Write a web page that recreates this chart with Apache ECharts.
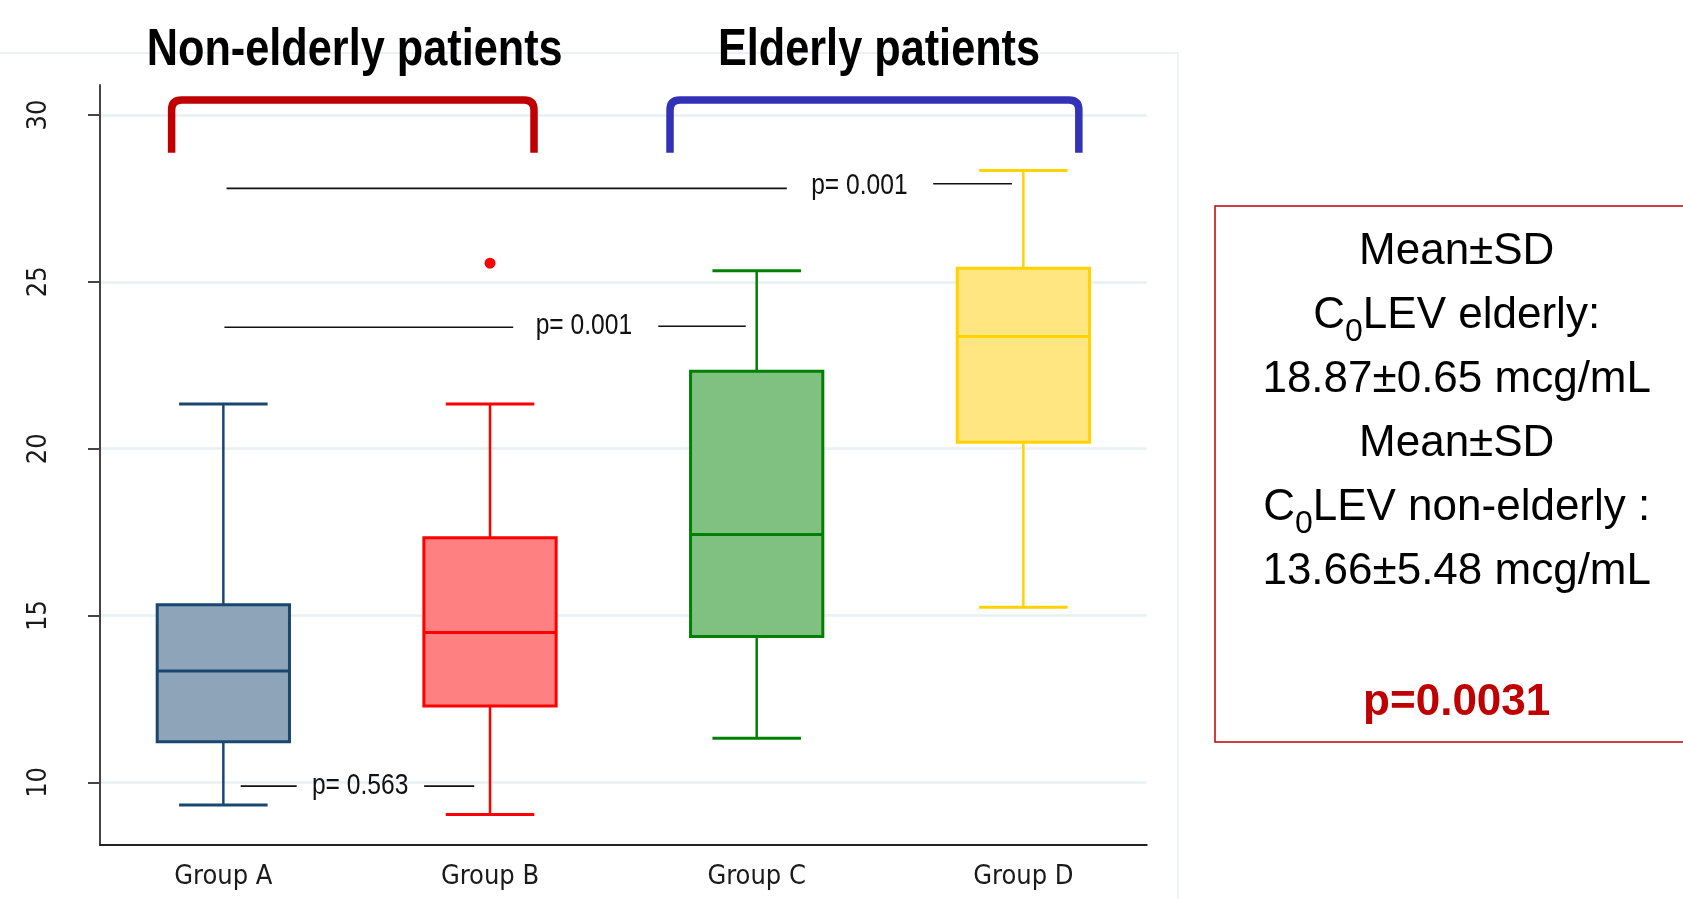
<!DOCTYPE html>
<html><head><meta charset="utf-8">
<script src="https://cdn.jsdelivr.net/npm/echarts@6/dist/echarts.min.js"></script>
<style>html,body{margin:0;padding:0;background:#fff;} #chart{width:1683px;height:899px;}</style>
</head><body><div id="chart"></div>
<script>
// ---------- data ----------
const categories = ['Group A', 'Group B', 'Group C', 'Group D'];
const whiskerLow  = [9.32, 9.04, 11.32, 15.25];
const q1          = [11.22, 12.29, 14.37, 20.19];
const median      = [13.34, 14.49, 17.43, 23.36];
const q3          = [15.32, 17.33, 22.32, 25.41];
const whiskerHigh = [21.34, 21.34, 25.33, 28.34];
const outliers    = [[2, 25.56]];
const yTicks      = [10, 15, 20, 25, 30];

const pLabels   = ['p= 0.001', 'p= 0.001', 'p= 0.563'];
const pLabelPos = [[3.385, 27.89], [2.352, 23.67], [1.513, 9.90]];
const pLeftSeg  = [[1.012, 3.113, 27.80], [1.004, 2.087, 23.64], [1.065, 1.275, 9.89]];
const pRightSeg = [[3.662, 3.957, 27.94], [2.631, 2.959, 23.67], [1.753, 1.941, 9.89]];

const groupTitles  = ['Non-elderly patients', 'Elderly patients'];
const bracketSpan  = [[0.806, 2.165], [2.675, 4.208]];
const bracketTop   = [30.45, 30.45];
const bracketFoot  = [28.87, 28.87];

const statElderly    = '18.87±0.65 mcg/mL';
const statNonElderly = '13.66±5.48 mcg/mL';
const statP          = 'p=0.0031';

// ---------- styles ----------
const SANS = '"Liberation Sans", Arial, sans-serif';
const COND = '"DejaVu Sans Condensed", "Liberation Sans", sans-serif';
const fillColors   = ['#8ea4b9', '#ff8080', '#80c080', '#ffe680'];
const strokeColors = ['#1a476f', '#ff0000', '#008000', '#ffd200'];
const bracketColors = ['#c00000', '#3232b8'];

const boxData = categories.map((c, i) => [i + 1, whiskerLow[i], q1[i], median[i], q3[i], whiskerHigh[i]]);
const pData = pLabels.map((l, i) => [pLeftSeg[i][0], pLeftSeg[i][1], pLeftSeg[i][2],
  pRightSeg[i][0], pRightSeg[i][1], pRightSeg[i][2], pLabelPos[i][0], pLabelPos[i][1]]);
const bracketData = bracketSpan.map((s, i) => [s[0], s[1], bracketTop[i], bracketFoot[i]]);

function renderBox(params, api) {
  const i = params.dataIndex;
  const x = api.value(0);
  const pLo = api.coord([x, api.value(1)]);
  const p1 = api.coord([x, api.value(2)]);
  const pm = api.coord([x, api.value(3)]);
  const p3 = api.coord([x, api.value(4)]);
  const pHi = api.coord([x, api.value(5)]);
  const halfBox = api.size([0.248, 0])[0];
  const halfCap = api.size([0.166, 0])[0];
  const cx = pLo[0];
  const stroke = strokeColors[i], fill = fillColors[i];
  return {
    type: 'group', children: [
      { type: 'line', shape: { x1: cx, y1: pHi[1], x2: cx, y2: p3[1] }, style: { stroke, lineWidth: 2.5 } },
      { type: 'line', shape: { x1: cx, y1: p1[1], x2: cx, y2: pLo[1] }, style: { stroke, lineWidth: 2.5 } },
      { type: 'line', shape: { x1: cx - halfCap, y1: pHi[1], x2: cx + halfCap, y2: pHi[1] }, style: { stroke, lineWidth: 3 } },
      { type: 'line', shape: { x1: cx - halfCap, y1: pLo[1], x2: cx + halfCap, y2: pLo[1] }, style: { stroke, lineWidth: 3 } },
      { type: 'rect', shape: { x: cx - halfBox, y: p3[1], width: 2 * halfBox, height: p1[1] - p3[1] }, style: { fill, stroke, lineWidth: 3 } },
      { type: 'line', shape: { x1: cx - halfBox, y1: pm[1], x2: cx + halfBox, y2: pm[1] }, style: { stroke, lineWidth: 3 } }
    ]
  };
}

function renderP(params, api) {
  const i = params.dataIndex;
  const a = api.coord([api.value(0), api.value(2)]);
  const b = api.coord([api.value(1), api.value(2)]);
  const c = api.coord([api.value(3), api.value(5)]);
  const d = api.coord([api.value(4), api.value(5)]);
  const t = api.coord([api.value(6), api.value(7)]);
  return {
    type: 'group', children: [
      { type: 'line', shape: { x1: a[0], y1: a[1], x2: b[0], y2: b[1] }, style: { stroke: '#111', lineWidth: 1.7 } },
      { type: 'line', shape: { x1: c[0], y1: c[1], x2: d[0], y2: d[1] }, style: { stroke: '#111', lineWidth: 1.7 } },
      { type: 'text', x: t[0], y: t[1], scaleX: 0.82,
        style: { text: pLabels[i], fontSize: 30, fontFamily: SANS, fill: '#111', align: 'center', verticalAlign: 'middle' } }
    ]
  };
}

function renderBracket(params, api) {
  const i = params.dataIndex;
  const l = api.coord([api.value(0), api.value(2)]);
  const r = api.coord([api.value(1), api.value(2)]);
  const lb = api.coord([api.value(0), api.value(3)]);
  const rad = 10;
  const d = `M${l[0]} ${lb[1]} L${l[0]} ${l[1] + rad} Q${l[0]} ${l[1]} ${l[0] + rad} ${l[1]} L${r[0] - rad} ${r[1]} Q${r[0]} ${r[1]} ${r[0]} ${r[1] + rad} L${r[0]} ${lb[1]}`;
  return { type: 'path', shape: { pathData: d }, style: { fill: 'none', stroke: bracketColors[i], lineWidth: 7.5 } };
}

const chart = echarts.init(document.getElementById('chart'), null, { renderer: 'canvas' });
chart.setOption({
  backgroundColor: '#fff',
  animation: false,
  grid: { left: 100, top: 85, width: 1046.7, height: 760, containLabel: false },
  xAxis: {
    type: 'value', min: 0.5375, max: 4.4625,
    axisLine: { show: true, onZero: false, lineStyle: { color: '#222', width: 2 } },
    axisTick: { show: false },
    splitLine: { show: false },
    axisLabel: { customValues: [1, 2, 3, 4], formatter: v => categories[Math.round(v) - 1],
      fontSize: 27, fontFamily: COND, color: '#1a1a1a', margin: 18 }
  },
  yAxis: {
    type: 'value', min: 8.124, max: 30.899,
    axisLine: { show: true, onZero: false, lineStyle: { color: '#444', width: 2 } },
    axisTick: { show: true, customValues: yTicks, length: 12, lineStyle: { color: '#444', width: 2 } },
    axisLabel: { customValues: yTicks, rotate: 90, fontSize: 27, fontFamily: COND, color: '#1a1a1a', margin: 48 },
    splitLine: { show: true, lineStyle: { color: '#e9f0f2', width: 2.5 } }
  },
  graphic: [
    { type: 'rect', z: -10, silent: true, shape: { x: -5, y: 53, width: 1183, height: 900 },
      style: { fill: 'none', stroke: '#e6eef0', lineWidth: 1.5 } },
    { type: 'text', x: 354.7, y: 50.5, scaleX: 0.832,
      style: { text: groupTitles[0], fontSize: 52, fontWeight: 'bold', fontFamily: SANS, fill: '#000', align: 'center', verticalAlign: 'middle' } },
    { type: 'text', x: 879, y: 50.5, scaleX: 0.832,
      style: { text: groupTitles[1], fontSize: 52, fontWeight: 'bold', fontFamily: SANS, fill: '#000', align: 'center', verticalAlign: 'middle' } },
    { type: 'rect', shape: { x: 1215, y: 206, width: 500, height: 536 },
      style: { fill: '#fff', stroke: '#c00000', lineWidth: 1.5 } },
    { type: 'text', x: 1456.7, y: 220,
      style: {
        text: ['Mean±SD', 'C{sub|0}LEV elderly:', statElderly, 'Mean±SD', 'C{sub|0}LEV non-elderly :', statNonElderly].join('\n'),
        fontSize: 44, fontFamily: SANS, fill: '#000', lineHeight: 64, align: 'center', verticalAlign: 'top',
        rich: { sub: { fontSize: 32, fontFamily: SANS, fill: '#000', lineHeight: 33, verticalAlign: 'bottom' } }
      } },
    { type: 'text', x: 1456.7, y: 703,
      style: { text: statP, fontSize: 44, fontWeight: 'bold', fontFamily: SANS, fill: '#c00000', align: 'center', verticalAlign: 'middle' } }
  ],
  series: [
    { type: 'custom', name: 'box', renderItem: renderBox, data: boxData, encode: { x: 0, y: [1, 2, 3, 4, 5] }, clip: false, z: 3 },
    { type: 'scatter', name: 'outlier', data: outliers, symbol: 'circle', symbolSize: 11, itemStyle: { color: '#ff0000', opacity: 1 }, z: 4 },
    { type: 'custom', name: 'p', renderItem: renderP, data: pData, encode: { x: [0, 1, 3, 4, 6], y: [2, 5, 7] }, clip: false, z: 4 },
    { type: 'custom', name: 'bracket', renderItem: renderBracket, data: bracketData, encode: { x: [0, 1], y: [2, 3] }, clip: false, z: 4 }
  ]
});
</script></body></html>
